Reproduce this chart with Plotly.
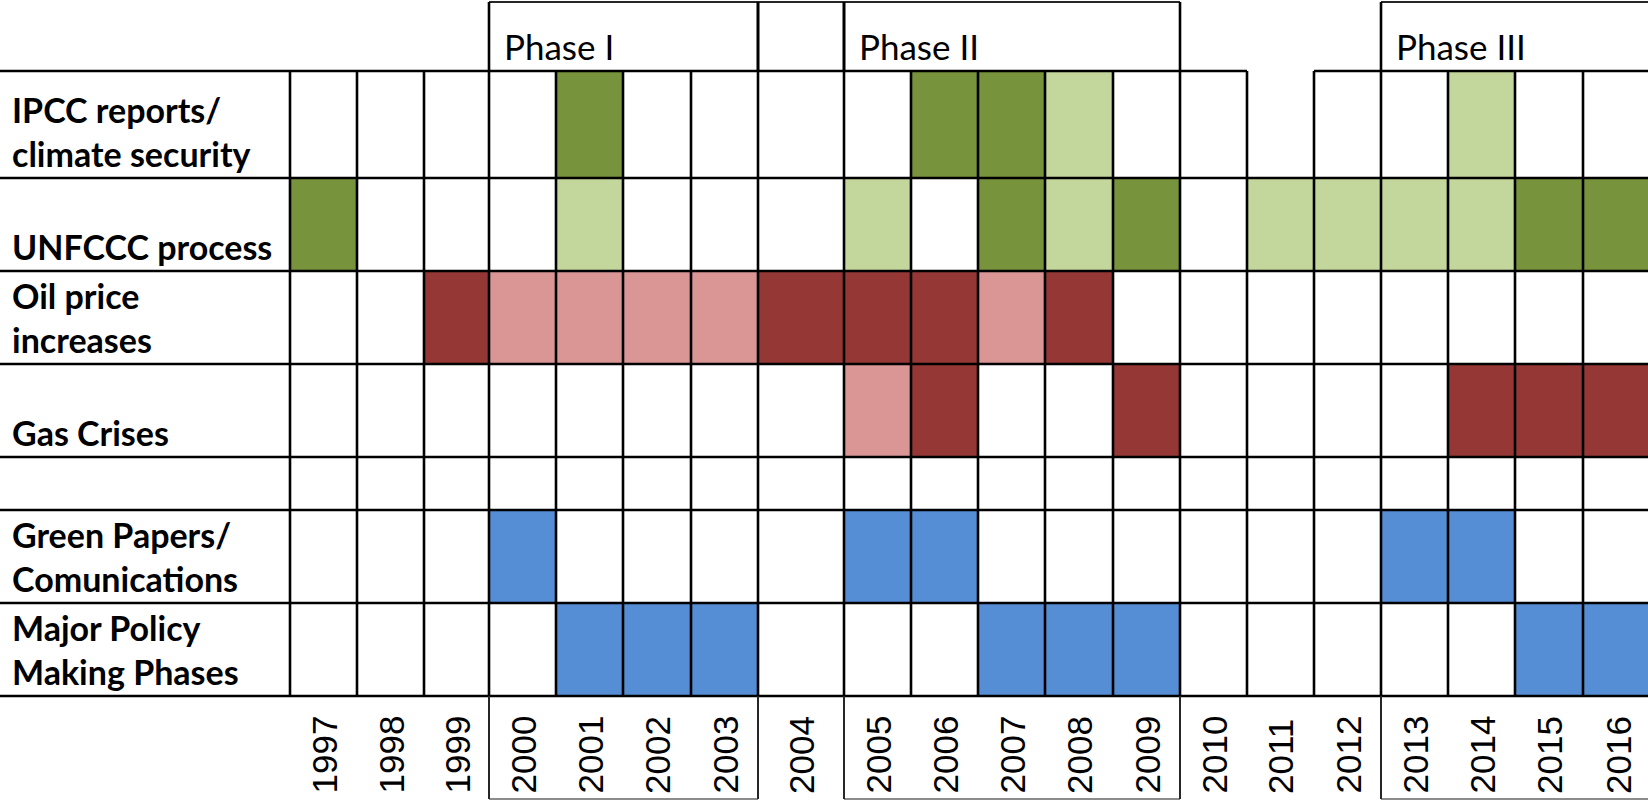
import plotly.graph_objects as go

# ---------------- data ----------------
YEARS = [1997, 1998, 1999, 2000, 2001, 2002, 2003, 2004, 2005, 2006,
         2007, 2008, 2009, 2010, 2011, 2012, 2013, 2014, 2015, 2016]

ROW_LABELS = [
    ["IPCC reports/", "climate security"],
    ["UNFCCC process"],
    ["Oil price", "increases"],
    ["Gas Crises"],
    [],
    ["Green Papers/", "Comunications"],
    ["Major Policy", "Making Phases"],
]

# years marked in each row (strong / light shade)
IPCC_STRONG = [2001, 2006, 2007]
IPCC_LIGHT = [2008, 2014]
UNFCCC_STRONG = [1997, 2007, 2009, 2015, 2016]
UNFCCC_LIGHT = [2001, 2005, 2008, 2011, 2012, 2013, 2014]
OIL_STRONG = [1999, 2004, 2005, 2006, 2008]
OIL_LIGHT = [2000, 2001, 2002, 2003, 2007]
GAS_STRONG = [2006, 2009, 2014, 2015, 2016]
GAS_LIGHT = [2005]
EMPTY_ROW = []
GREEN_PAPERS = [2000, 2005, 2006, 2013, 2014]
MAJOR_POLICY = [2001, 2002, 2003, 2007, 2008, 2009, 2015, 2016]

PHASES = [("Phase I", 2000, 2003), ("Phase II", 2005, 2009), ("Phase III", 2013, 2016)]
HEADER_EXTRA_BOX_YEARS = [2004]

# category codes: 0 none, 1 strong green, 2 light green, 3 strong red, 4 light red, 5 blue
ROW_MARKS = [
    [(IPCC_STRONG, 1), (IPCC_LIGHT, 2)],
    [(UNFCCC_STRONG, 1), (UNFCCC_LIGHT, 2)],
    [(OIL_STRONG, 3), (OIL_LIGHT, 4)],
    [(GAS_STRONG, 3), (GAS_LIGHT, 4)],
    [(EMPTY_ROW, 0)],
    [(GREEN_PAPERS, 5)],
    [(MAJOR_POLICY, 5)],
]

# ---------------- layout / style ----------------
W, H = 1648, 801
LABEL_COL_W = 290
COL_W = [67, 67, 65, 67, 67, 68, 67, 86, 67, 67, 67, 68, 67, 67, 67, 67, 67, 67, 68, 70]
ROW_EDGES = [71, 178, 271, 364, 457, 510, 603, 696]
HEADER_TOP = 2
FOOT_BOTTOM = 799
TOP_BORDER_GAP_YEARS = [2011]

COLORS = ["#FFFFFF", "#77933C", "#C3D69B", "#953735", "#D99694", "#558ED5"]
GRID_COLOR = "#000000"
GRID_W = 2.6
PHASE_LINE = "#262626"
FOOT_LINE = "#8C8C8C"

LABEL_FONT = dict(family="Lato, 'Open Sans', sans-serif", size=34, color="#000000")
PHASE_FONT = dict(family="Lato, 'Open Sans', sans-serif", size=35, color="#000000")
YEAR_FONT = dict(family="'Liberation Sans', Arial, sans-serif", size=35, color="#000000")

# column edges
x_edges = [LABEL_COL_W]
for w in COL_W:
    x_edges.append(x_edges[-1] + w)
col_left = {y: x_edges[i] for i, y in enumerate(YEARS)}
col_right = {y: x_edges[i + 1] for i, y in enumerate(YEARS)}

# z matrix
z = []
for marks in ROW_MARKS:
    row = [0] * len(YEARS)
    for yrs, code in marks:
        for yr in yrs:
            row[YEARS.index(yr)] = code
    z.append(row)

n = len(COLORS)
colorscale = []
for k, c in enumerate(COLORS):
    colorscale.append([k / n, c])
    colorscale.append([(k + 1) / n, c])

fig = go.Figure()
fig.add_trace(go.Heatmap(
    z=z, x=x_edges, y=ROW_EDGES,
    colorscale=colorscale, zmin=-0.5, zmax=n - 0.5,
    showscale=False, hoverinfo="skip",
))

# grid lines
gx, gy = [], []
for i, yv in enumerate(ROW_EDGES):
    if i == 0:
        start = 0
        for yr in TOP_BORDER_GAP_YEARS:
            gx += [start, col_left[yr], None]
            gy += [yv, yv, None]
            start = col_right[yr]
        gx += [start, W, None]
        gy += [yv, yv, None]
    else:
        gx += [0, W, None]
        gy += [yv, yv, None]
for xv in x_edges[:-1]:
    gx += [xv, xv, None]
    gy += [ROW_EDGES[0], ROW_EDGES[-1], None]
fig.add_trace(go.Scatter(x=gx, y=gy, mode="lines",
                         line=dict(color=GRID_COLOR, width=GRID_W),
                         hoverinfo="skip", showlegend=False))

# phase boxes (header and footer)
shapes = []
header_spans = [(col_left[a], col_right[b]) for _, a, b in PHASES]
header_spans += [(col_left[yr], col_right[yr]) for yr in HEADER_EXTRA_BOX_YEARS]
for x0, x1 in header_spans:
    x1c = min(x1, W + 2)
    shapes.append(dict(type="line", xref="x", yref="y", x0=x0, x1=x1c, y0=HEADER_TOP, y1=HEADER_TOP,
                       line=dict(color=PHASE_LINE, width=2.2)))
    for xv in (x0, x1):
        shapes.append(dict(type="line", xref="x", yref="y", x0=xv, x1=xv, y0=HEADER_TOP, y1=ROW_EDGES[0],
                           line=dict(color=GRID_COLOR, width=GRID_W)))
for _, a, b in PHASES:
    x0, x1 = col_left[a], col_right[b]
    shapes.append(dict(type="line", xref="x", yref="y", x0=x0, x1=x1, y0=FOOT_BOTTOM, y1=FOOT_BOTTOM,
                       line=dict(color=FOOT_LINE, width=2)))
    for xv in (x0, x1):
        shapes.append(dict(type="line", xref="x", yref="y", x0=xv, x1=xv, y0=ROW_EDGES[-1], y1=FOOT_BOTTOM,
                           line=dict(color=PHASE_LINE, width=2)))

annotations = []
# row labels (bottom aligned, like spreadsheet cells)
LINE_STEP = 44
BASE_OFFSET = 11
for i, lines in enumerate(ROW_LABELS):
    bottom = ROW_EDGES[i + 1]
    for j, txt in enumerate(reversed(lines)):
        baseline = bottom - BASE_OFFSET - j * LINE_STEP
        annotations.append(dict(
            x=11, y=baseline + 0.215 * LABEL_FONT["size"] + 1, xref="x", yref="y",
            text="<b>" + txt + "</b>", showarrow=False, xanchor="left", yanchor="bottom",
            font=LABEL_FONT, borderpad=0))

# phase titles
for name, a, b in PHASES:
    annotations.append(dict(
        x=col_left[a] + 14, y=59 + 0.215 * PHASE_FONT["size"] + 1, xref="x", yref="y",
        text=name, showarrow=False, xanchor="left", yanchor="bottom",
        font=PHASE_FONT, borderpad=0))

# year labels (rotated)
for yr in YEARS:
    cx = (col_left[yr] + col_right[yr]) / 2
    annotations.append(dict(
        x=cx, y=795, xref="x", yref="y", text=str(yr), textangle=-90,
        showarrow=False, xanchor="center", yanchor="bottom", font=YEAR_FONT, borderpad=0))

fig.update_layout(
    width=W, height=H,
    margin=dict(l=0, r=0, t=0, b=0),
    paper_bgcolor="#FFFFFF", plot_bgcolor="#FFFFFF",
    xaxis=dict(range=[0, W], visible=False, fixedrange=True),
    yaxis=dict(range=[H, 0], visible=False, fixedrange=True),
    shapes=shapes, annotations=annotations, showlegend=False,
)

fig.write_html("out.html", config={"displayModeBar": False},
               post_script="document.body.style.margin='0';document.body.style.overflow='hidden';")
